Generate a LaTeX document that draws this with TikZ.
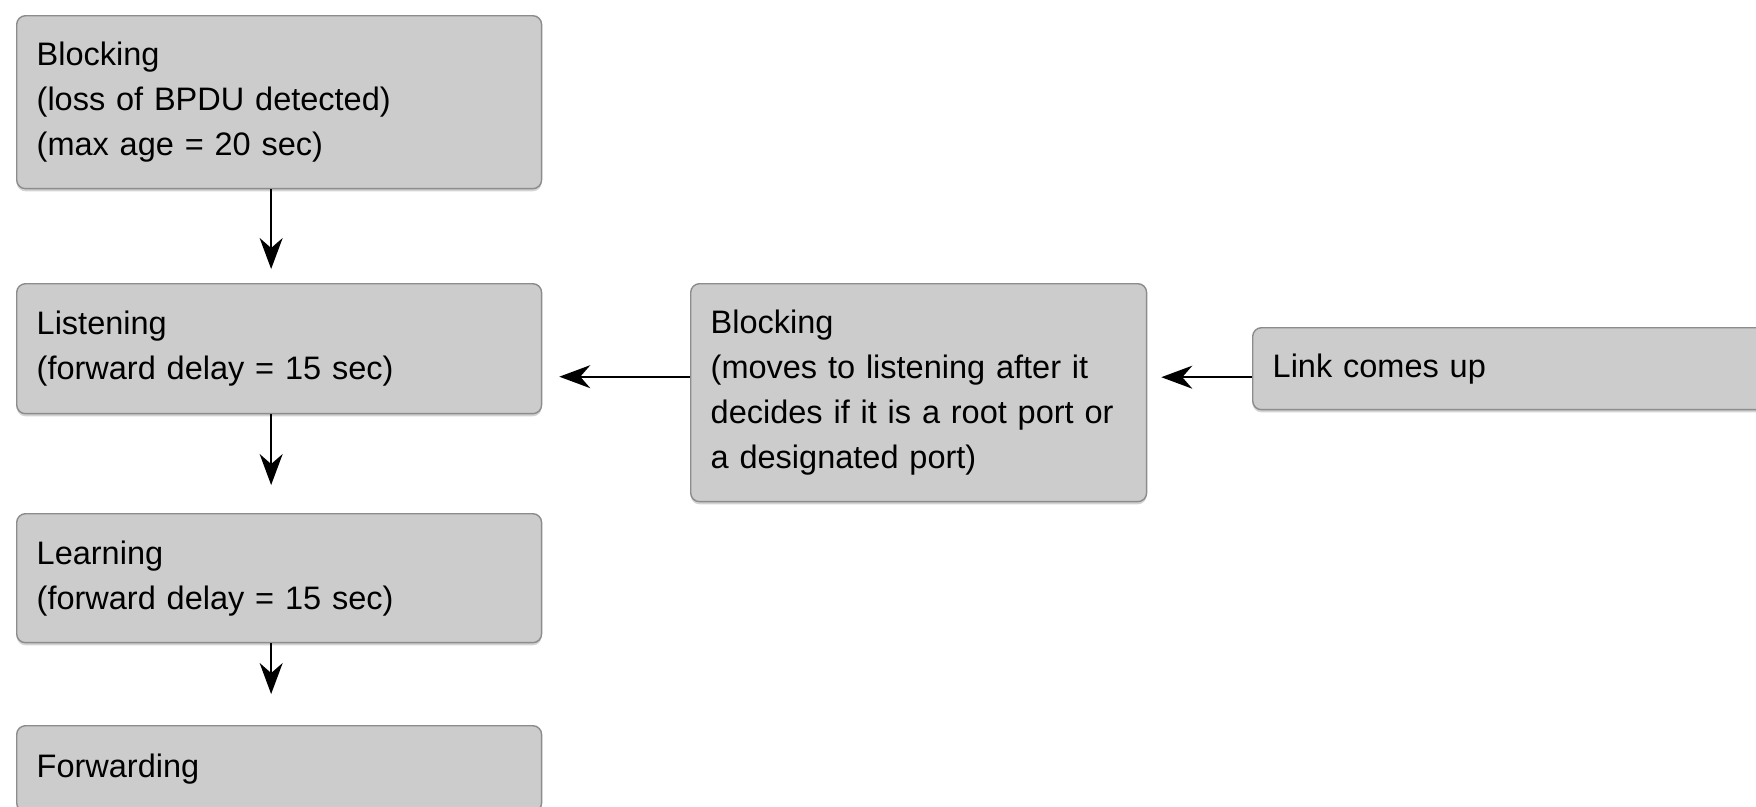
\documentclass[tikz,border=0pt]{standalone}
\usepackage{fontspec}
\setmainfont{Liberation Sans}
\usetikzlibrary{arrows.meta, shadows}

\begin{document}
\begin{tikzpicture}[
    x=0.02cm, y=-0.02cm,
    state/.style={draw=black!45, fill=black!20, rounded corners=5pt,
      line width=0.8pt, anchor=north west, align=left,
      inner xsep=0.4cm, inner ysep=0pt,
      font=\fontsize{18.5}{25.6}\selectfont,
      drop shadow={shadow xshift=0pt, shadow yshift=-1.5pt, opacity=0.35}},
    arr/.style={-{Stealth[length=0.62cm, width=0.46cm, inset=0.2cm]},
      line width=1.1pt},
  ]
    \useasboundingbox (0,0) rectangle (1756,806);

    % port states, left column
    \node[state, text width=9.7cm, minimum height=3.46cm] (blocking) at (16,15)
      {Blocking\\(loss of BPDU detected)\\(max age = 20 sec)};
    \node[state, text width=9.7cm, minimum height=2.6cm] (listening) at (16,283)
      {Listening\\(forward delay = 15 sec)};
    \node[state, text width=9.7cm, minimum height=2.58cm] (learning) at (16,513)
      {Learning\\(forward delay = 15 sec)};
    \node[state, text width=9.7cm, minimum height=1.72cm] (forwarding) at (16,725)
      {Forwarding};

    % link comes up path
    \node[state, text width=8.32cm, minimum height=4.36cm] (blocked) at (690,283)
      {Blocking\\(moves to listening after it\\decides if it is a root port or\\a designated port)};
    \node[state, text width=9.7cm, minimum height=1.64cm] (linkup) at (1252,327)
      {Link comes up};

    \coordinate (from1) at ([yshift=0.32cm]blocked.west);
    \coordinate (from2) at ([yshift=-0.17cm]linkup.west);

    % arrows
    \draw[arr, shorten >=0.28cm] ([xshift=-0.16cm]blocking.south) -- ([xshift=-0.16cm]listening.north);
    \draw[arr, shorten >=0.56cm] ([xshift=-0.16cm]listening.south) -- ([xshift=-0.16cm]learning.north);
    \draw[arr, shorten >=0.62cm] ([xshift=-0.16cm]learning.south) -- ([xshift=-0.16cm]forwarding.north);
    \draw[arr, shorten >=0.34cm] (from1) -- (from1 -| listening.east);
    \draw[arr, shorten >=0.28cm] (from2) -- (from2 -| blocked.east);
  \end{tikzpicture}
\end{document}
